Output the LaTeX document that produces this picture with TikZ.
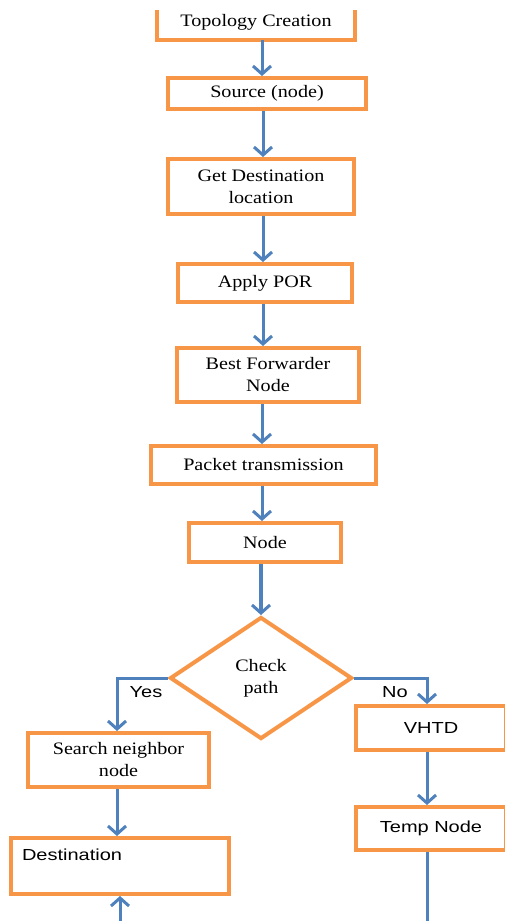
\documentclass[tikz,border=0pt]{standalone}
\usepackage{fontspec}
\usetikzlibrary{arrows.meta,shapes.geometric}
\newfontfamily\boxserif{Liberation Serif}[FakeStretch=1.15]
\newfontfamily\boxsans{Liberation Sans}[FakeStretch=1.25]
\definecolor{boxorange}{HTML}{F79646}
\definecolor{linkblue}{HTML}{4F81BD}
\tikzset{
  stepbox/.style={draw=boxorange, line width=4pt, fill=white, inner sep=2pt, align=center,
    font=\boxserif\fontsize{17.5}{22}\selectfont},
  sansbox/.style={stepbox, font=\boxsans\fontsize{16}{22}\selectfont},
  decision/.style={diamond, draw=boxorange, line width=4pt, fill=white, inner sep=0pt, align=center,
    font=\boxserif\fontsize{17.5}{22}\selectfont},
  link/.style={draw=linkblue, line width=3pt, -{Straight Barb[length=8pt,width=18pt,line width=3pt]}},
  plainlink/.style={draw=linkblue, line width=3pt},
  lbl/.style={font=\boxsans\fontsize{16}{20}\selectfont, inner sep=0pt}
}
\begin{document}
\begin{tikzpicture}[x=1pt,y=-1pt]
\useasboundingbox[fill=white] (0,0) rectangle (505,921);
% top box (its upper edge is outside the picture)
\node[font=\boxserif\fontsize{17.5}{22}\selectfont, minimum width=198pt, minimum height=30pt, inner sep=0pt] (topo) at (256,22) {Topology Creation};
\draw[draw=boxorange, line width=4pt] (topo.south west |- 0,10) -- (topo.south west |- 0,40) -- (topo.south east |- 0,40) -- (topo.south east |- 0,10);
\node[stepbox, minimum width=198pt, minimum height=31pt] (src) at (267,93.5) {Source (node)};
\node[stepbox, minimum width=186pt, minimum height=55pt] (getdest) at (261,186.5) {Get Destination\\location};
\node[stepbox, minimum width=174pt, minimum height=38pt] (por) at (265,283) {Apply POR};
\node[stepbox, minimum width=182pt, minimum height=54pt] (bfn) at (268,375) {Best Forwarder\\Node};
\node[stepbox, minimum width=225pt, minimum height=38pt] (pkt) at (263.5,465) {Packet transmission};
\node[stepbox, minimum width=152pt, minimum height=39pt] (nd) at (265,542.5) {Node};
\node[decision, minimum width=182pt, minimum height=122pt] (chk) at (261,678) {Check\\path};
\node[stepbox, minimum width=181pt, minimum height=54pt] (search) at (118.5,760) {Search neighbor\\node};
\node[sansbox, minimum width=218pt, minimum height=56pt, text width=196pt, align=left] (dest) at (120,866) {Destination\\~};
\node[sansbox, minimum width=150pt, minimum height=44pt] (vhtd) at (431,728) {VHTD};
\node[sansbox, minimum width=150pt, minimum height=43pt] (temp) at (431,828.5) {Temp Node};
\coordinate (tempend) at (427,925);
\coordinate (destin) at (120,925);
% connectors
\draw[link] (262,40) -- (src.north -| 262,0);
\draw[link] (src.south -| 263,0) -- (getdest.north -| 263,0);
\draw[link] (getdest.south -| 263,0) -- (por.north -| 263,0);
\draw[link] (por.south -| 263,0) -- (bfn.north -| 263,0);
\draw[link] (bfn.south -| 262,0) -- (pkt.north -| 262,0);
\draw[link] (pkt.south -| 262,0) -- (nd.north -| 262,0);
\draw[link, line width=4pt] (nd.south -| 261,0) -- (chk.north);
\draw[link] (chk.west) -| (search.north -| 117,0);
\draw[link] (chk.east) -| (vhtd.north -| 427,0);
\draw[link] (search.south -| 117,0) -- (dest.north -| 117,0);
\draw[link] (vhtd.south -| 427,0) -- (temp.north -| 427,0);
\draw[plainlink] (temp.south -| 427,0) -- (tempend);
\draw[link] (destin) -- (dest.south);
\node[lbl] (yes) at (146,692) {Yes};
\node[lbl] (no) at (395,692) {No};
\end{tikzpicture}
\end{document}
